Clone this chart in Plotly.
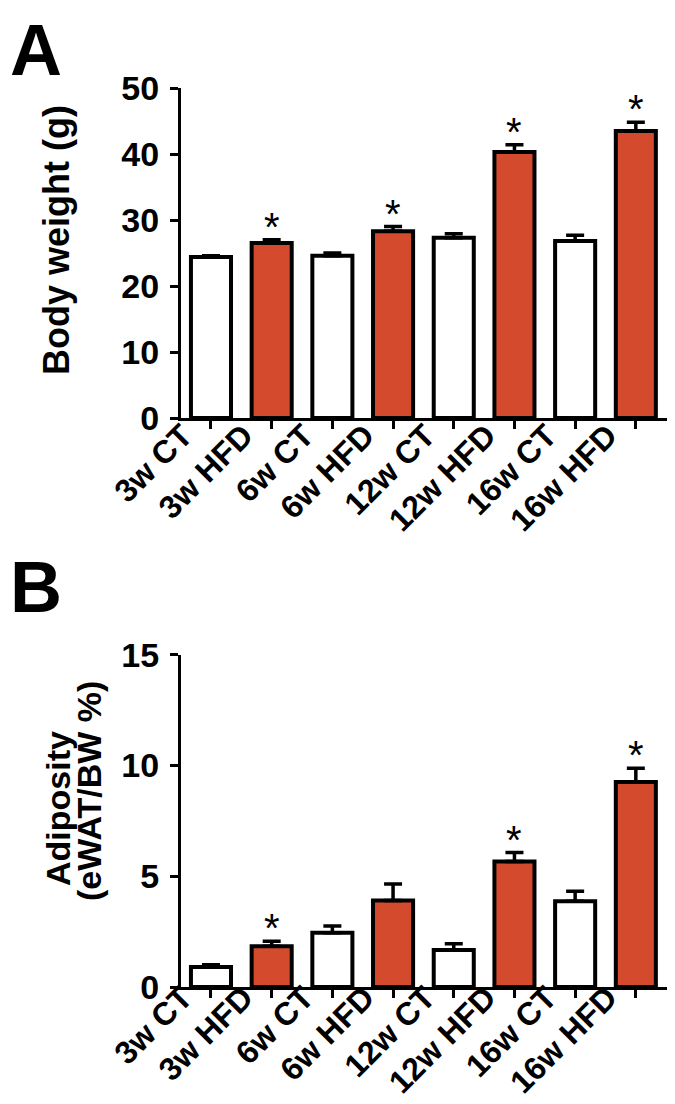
import plotly.graph_objects as go

categories = ["3w CT", "3w HFD", "6w CT", "6w HFD", "12w CT", "12w HFD", "16w CT", "16w HFD"]
diet = ["CT", "HFD", "CT", "HFD", "CT", "HFD", "CT", "HFD"]

bw_mean = [24.4, 26.5, 24.6, 28.3, 27.3, 40.3, 26.8, 43.5]
bw_sem = [0.2, 0.5, 0.4, 0.7, 0.6, 1.1, 0.9, 1.3]
bw_sig = [False, True, False, True, False, True, False, True]

adip_mean = [0.90, 1.84, 2.45, 3.90, 1.67, 5.67, 3.87, 9.25]
adip_sem = [0.10, 0.22, 0.30, 0.75, 0.28, 0.40, 0.45, 0.62]
adip_sig = [False, True, False, False, False, True, False, True]

bw_ticks = [0, 10, 20, 30, 40, 50]
adip_ticks = [0, 5, 10, 15]

RED = "#D44A2C"
fill = [RED if d == "HFD" else "white" for d in diet]
FONT = "Liberation Sans, Arial, sans-serif"

fig = go.Figure()


def add_panel(means, sems, xa, ya):
    fig.add_trace(go.Bar(
        x=categories, y=means, xaxis=xa, yaxis=ya,
        width=0.66,
        marker=dict(color=fill, line=dict(color="black", width=4)),
        error_y=dict(type="data", symmetric=False, array=sems,
                     arrayminus=[0] * len(sems), color="black",
                     thickness=3.5, width=9),
        showlegend=False, hoverinfo="x+y",
    ))


add_panel(bw_mean, bw_sem, "x", "y")
add_panel(adip_mean, adip_sem, "x2", "y2")

annotations = []
for cat, m, s, sig in zip(categories, bw_mean, bw_sem, bw_sig):
    if sig:
        annotations.append(dict(x=cat, y=m + s, xref="x", yref="y", text="*",
                                showarrow=False, yanchor="bottom", yshift=-11,
                                font=dict(family=FONT, size=40, color="black")))
for cat, m, s, sig in zip(categories, adip_mean, adip_sem, adip_sig):
    if sig:
        annotations.append(dict(x=cat, y=m + s, xref="x2", yref="y2", text="*",
                                showarrow=False, yanchor="bottom", yshift=-11,
                                font=dict(family=FONT, size=40, color="black")))

# panel letters
annotations.append(dict(x=0.0, y=1.0, xref="paper", yref="paper", text="<b>A</b>",
                        showarrow=False, xanchor="left", yanchor="top", xshift=0, yshift=0,
                        font=dict(family=FONT, size=72, color="black")))
annotations.append(dict(x=0.0, y=1 - 560 / 1104, xref="paper", yref="paper", text="<b>B</b>",
                        showarrow=False, xanchor="left", yanchor="top", xshift=0, yshift=23,
                        font=dict(family=FONT, size=72, color="black")))
# axis titles
annotations.append(dict(x=48 / 675, y=1 - 232 / 1104, xref="paper", yref="paper",
                        text="<b>Body weight (g)</b>", textangle=-90, showarrow=False,
                        xanchor="center", yanchor="middle",
                        font=dict(family=FONT, size=36, color="black")))
annotations.append(dict(x=50 / 675, y=1 - 801 / 1104, xref="paper", yref="paper",
                        text="<b>Adiposity</b>", textangle=-90, showarrow=False,
                        xanchor="center", yanchor="middle",
                        font=dict(family=FONT, size=34, color="black")))
annotations.append(dict(x=81 / 675, y=1 - 783 / 1104, xref="paper", yref="paper",
                        text="<b>(eWAT/BW %)</b>", textangle=-90, showarrow=False,
                        xanchor="center", yanchor="middle",
                        font=dict(family=FONT, size=34, color="black")))

xcommon = dict(
    type="category", categoryorder="array", categoryarray=categories,
    range=[-0.494, 7.53], showline=True, linecolor="black", linewidth=3,
    ticks="outside", ticklen=8, tickwidth=3, tickcolor="black", tickangle=-45,
    tickfont=dict(family=FONT, size=32, color="black", weight="bold"),
    ticklabelshift=-28,
    showgrid=False, zeroline=False, automargin=False,
    domain=[173 / 675, 660 / 675],
)
ycommon = dict(
    showline=True, linecolor="black", linewidth=3,
    ticks="outside", ticklen=8, tickwidth=3, tickcolor="black",
    tickfont=dict(family=FONT, size=34, color="black", weight="bold"),
    ticklabelstandoff=4,
    showgrid=False, zeroline=False, automargin=False,
)

fig.update_layout(
    width=675, height=1104,
    margin=dict(l=0, r=0, t=0, b=0),
    paper_bgcolor="white", plot_bgcolor="white",
    bargap=0.34,
    xaxis=dict(xcommon, anchor="y", ticklabelstandoff=-25),
    xaxis2=dict(xcommon, anchor="y2", ticklabelstandoff=-32),
    yaxis=dict(ycommon, anchor="x", range=[0, 50], tickvals=bw_ticks,
               domain=[1 - 410 / 1104, 1 - 80 / 1104]),
    yaxis2=dict(ycommon, anchor="x2", range=[0, 15], tickvals=adip_ticks,
                domain=[1 - 979 / 1104, 1 - 646.7 / 1104]),
    annotations=annotations,
)

fig.write_html("out.html")
